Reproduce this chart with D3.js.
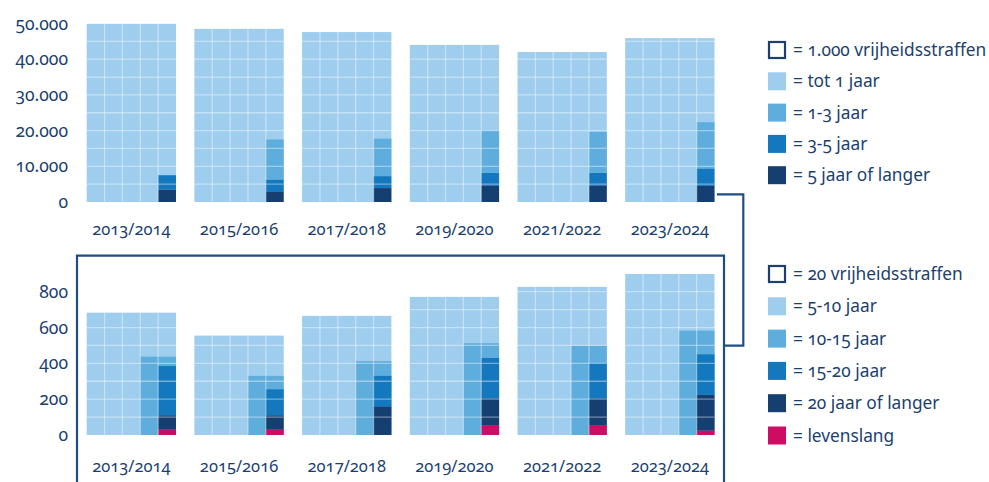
<!DOCTYPE html>
<html>
<head>
<meta charset="utf-8">
<script src="https://cdn.jsdelivr.net/npm/d3@7"></script>
<style>
  body { margin: 0; background: #fff; }
  text { font-family: "Noto Sans", "Open Sans", sans-serif; fill: #1b3f70; font-variant-numeric: oldstyle-nums; }
</style>
</head>
<body>
<svg id="chart" width="989" height="482"></svg>
<script>
const periods = ["2013/2014", "2015/2016", "2017/2018", "2019/2020", "2021/2022", "2023/2024"];

// top panel: number of sentences per length (1 cell = 1.000)
const totEenJaar = [48400, 45000, 44050, 40000, 38070, 41430];
const eenTotDrie = [0, 2240, 2100, 2370, 2300, 2590];
const drieTotVijf = [800, 700, 670, 730, 730, 980];
const vijfPlus = [700, 560, 780, 900, 900, 900];

// bottom panel: long sentences (1 cell = 20)
const vijfTotTien = [508, 423, 500, 566, 628, 666];
const tienTotVijftien = [98, 81, 99, 119, 119, 143];
const vijftienTotTwintig = [55, 29, 34, 45, 39, 45];
const twintigPlus = [16, 16, 32, 30, 30, 40];
const levenslang = [6, 6, 0, 11, 11, 5];

const topTicks = [0, 10000, 20000, 30000, 40000, 50000];
const bottomTicks = [0, 200, 400, 600, 800];

const colors = {
  c1: "#9ecdee",
  c2: "#5faddd",
  c3: "#1478be",
  c4: "#163f71",
  pink: "#cf0c63"
};
const ink = "#1b3f70";
const frameColor = "#1f4c82";

const svg = d3.select("#chart");
const nl = d3.formatLocale({ decimal: ",", thousands: ".", grouping: [3], currency: ["", ""] });
const fmt = nl.format(",d");

const x = d3.scaleBand()
  .domain(periods)
  .range([86.7, 714.5])
  .paddingInner(0.171)
  .paddingOuter(0);

const nCols = 5;
const colW = x.bandwidth() / nCols;

const yTop = d3.scaleLinear().domain([0, 50000]).range([202, 23.5]);
const yBot = d3.scaleLinear().domain([0, 800]).range([435, 291.7]);

// build row objects
const topData = periods.map((p, i) => ({
  period: p,
  total: totEenJaar[i] + eenTotDrie[i] + drieTotVijf[i] + vijfPlus[i],
  // right column stack, bottom to top
  stack: [
    { v: vijfPlus[i], c: colors.c4 },
    { v: drieTotVijf[i], c: colors.c3 },
    { v: eenTotDrie[i], c: colors.c2 }
  ],
  block: null
}));

const botData = periods.map((p, i) => ({
  period: p,
  total: vijfTotTien[i] + tienTotVijftien[i] + vijftienTotTwintig[i] + twintigPlus[i] + levenslang[i],
  block: tienTotVijftien[i] + vijftienTotTwintig[i] + twintigPlus[i] + levenslang[i],
  stack: [
    { v: levenslang[i], c: colors.pink },
    { v: twintigPlus[i], c: colors.c4 },
    { v: vijftienTotTwintig[i], c: colors.c3 }
  ]
}));

function drawPanel(data, y, rowUnit, ticks, labelY) {
  const g = svg.append("g");

  // y axis labels only
  const axis = d3.axisLeft(y).tickValues(ticks).tickSize(0).tickPadding(0).tickFormat(fmt);
  const ax = g.append("g")
    .attr("transform", "translate(68,0)")
    .call(axis);
  ax.select(".domain").remove();
  ax.selectAll("text")
    .attr("font-size", 17.5)
    .attr("fill", ink)
    .style("font-family", null);

  const bars = g.selectAll("g.bar")
    .data(data)
    .enter()
    .append("g")
    .attr("class", "bar")
    .attr("transform", d => `translate(${x(d.period)},0)`);

  // whole waffle in lightest colour
  bars.append("rect")
    .attr("x", 0)
    .attr("y", d => y(d.total))
    .attr("width", x.bandwidth())
    .attr("height", d => y(0) - y(d.total))
    .attr("fill", colors.c1);

  // two-column block (bottom panel only)
  bars.filter(d => d.block != null)
    .append("rect")
    .attr("x", colW * 3)
    .attr("y", d => y(d.block * nCols / 2))
    .attr("width", colW * 2)
    .attr("height", d => y(0) - y(d.block * nCols / 2))
    .attr("fill", colors.c2);

  // single right column stack
  bars.each(function(d) {
    let cum = 0;
    const segs = d.stack.map(s => {
      const seg = { y0: cum, y1: cum + s.v, c: s.c };
      cum += s.v;
      return seg;
    });
    d3.select(this).selectAll("rect.seg")
      .data(segs.filter(s => s.y1 > s.y0))
      .enter()
      .append("rect")
      .attr("class", "seg")
      .attr("x", colW * 4)
      .attr("y", s => y(s.y1 * nCols))
      .attr("width", colW)
      .attr("height", s => y(s.y0 * nCols) - y(s.y1 * nCols))
      .attr("fill", s => s.c);
  });

  // white grid
  bars.each(function(d) {
    const b = d3.select(this);
    d3.range(1, nCols).forEach(k => {
      b.append("line")
        .attr("x1", k * colW).attr("x2", k * colW)
        .attr("y1", y(d.total)).attr("y2", y(0))
        .attr("stroke", "#fff").attr("stroke-opacity", 0.4).attr("stroke-width", 1.3);
    });
    d3.range(rowUnit, d.total, rowUnit).forEach(v => {
      b.append("line")
        .attr("x1", 0).attr("x2", x.bandwidth())
        .attr("y1", y(v)).attr("y2", y(v))
        .attr("stroke", "#fff").attr("stroke-opacity", 0.4).attr("stroke-width", 1.3);
    });
  });

  // period labels
  g.selectAll("text.period")
    .data(data)
    .enter()
    .append("text")
    .attr("class", "period")
    .attr("x", d => x(d.period) + x.bandwidth() / 2)
    .attr("y", labelY)
    .attr("text-anchor", "middle")
    .attr("dominant-baseline", "central")
    .attr("font-size", 16.5)
    .text(d => d.period);
}

drawPanel(topData, yTop, 5000, topTicks, 228);
drawPanel(botData, yBot, 100, bottomTicks, 465);

// frame around the bottom panel + connector
const lineG = svg.append("g")
  .attr("fill", "none")
  .attr("stroke", frameColor)
  .attr("stroke-width", 2.2);

lineG.append("path")
  .attr("d", d3.line()([[77, 490], [77, 255.7], [724, 255.7], [724, 490]]));
lineG.append("path")
  .attr("d", d3.line()([[717, 194.3], [743.3, 194.3], [743.3, 345.7], [724, 345.7]]));

// legends
const legendTop = [
  { label: "= 1.000 vrijheidsstraffen", outline: true },
  { label: "= tot 1 jaar", c: colors.c1 },
  { label: "= 1-3 jaar", c: colors.c2 },
  { label: "= 3-5 jaar", c: colors.c3 },
  { label: "= 5 jaar of langer", c: colors.c4 }
];
const legendBot = [
  { label: "= 20 vrijheidsstraffen", outline: true },
  { label: "= 5-10 jaar", c: colors.c1 },
  { label: "= 10-15 jaar", c: colors.c2 },
  { label: "= 15-20 jaar", c: colors.c3 },
  { label: "= 20 jaar of langer", c: colors.c4 },
  { label: "= levenslang", c: colors.pink }
];

function drawLegend(items, y0, step) {
  const lg = svg.append("g").attr("transform", `translate(768,${y0})`);
  const it = lg.selectAll("g")
    .data(items)
    .enter()
    .append("g")
    .attr("transform", (d, i) => `translate(0,${i * step})`);
  it.append("rect")
    .attr("x", d => d.outline ? 1 : 0)
    .attr("y", d => d.outline ? -7.5 : -8.5)
    .attr("width", d => d.outline ? 16 : 18)
    .attr("height", d => d.outline ? 16 : 18)
    .attr("fill", d => d.outline ? "#fff" : d.c)
    .attr("stroke", d => d.outline ? ink : "none")
    .attr("stroke-width", 2.2);
  it.append("text")
    .attr("x", 25)
    .attr("y", 0)
    .attr("dominant-baseline", "central")
    .attr("font-size", 17.3)
    .text(d => d.label);
}

drawLegend(legendTop, 49.5, 31.3);
drawLegend(legendBot, 273.5, 32.3);
</script>
</body>
</html>
